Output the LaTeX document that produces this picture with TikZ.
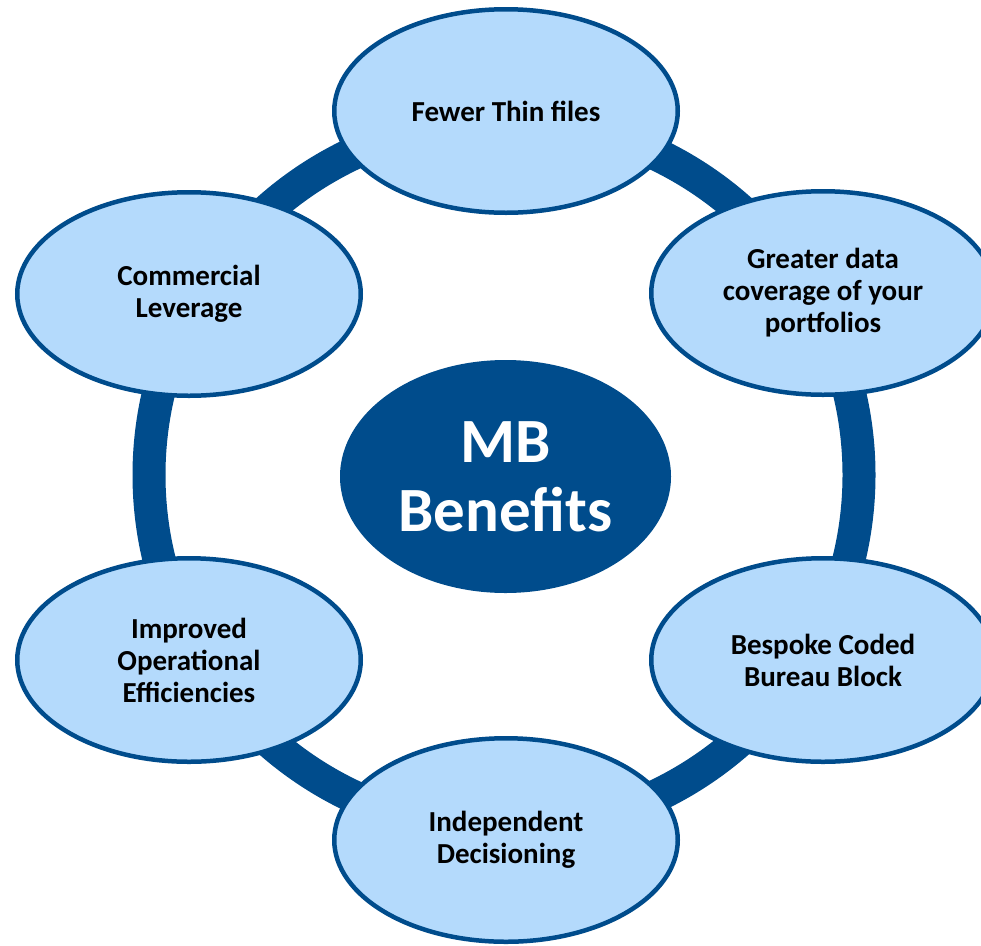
\documentclass[tikz,border=0pt]{standalone}
\usepackage{fontspec}
\setmainfont{Carlito}
\usetikzlibrary{shapes.geometric}
\definecolor{mbdark}{RGB}{0,76,140}
\definecolor{mblight}{RGB}{180,218,252}
\tikzset{
  benefit/.style={ellipse, draw=mbdark, line width=4.5pt, fill=mblight,
    inner sep=0pt, minimum width=343.5pt, minimum height=203.5pt,
    align=center, text=black, font=\fontsize{29}{32}\selectfont\bfseries},
  hub/.style={ellipse, fill=mbdark, inner sep=0pt,
    minimum width=331pt, minimum height=233pt,
    align=center, text=white, font=\fontsize{63}{69}\selectfont\bfseries},
  ring/.style={draw=mbdark, line width=33pt}
}
\begin{document}
\begin{tikzpicture}[x=1pt, y=-1pt]
  \useasboundingbox (0,0) rectangle (981,945);
  \clip (0,0) rectangle (981,945);
  \fill[white] (0,0) rectangle (981,945);

  % ring behind the benefit ellipses
  \coordinate (ringc) at (504,475);
  \draw[ring] (ringc) circle[radius=355pt];

  % centre
  \node[hub] (hubnode) at (505.5,476.5) {MB\\Benefits};

  % benefits around the ring
  \node[benefit] (thin)   at (506,111) {Fewer Thin files};
  \node[benefit] (cover)  at (823,293) {Greater data\\coverage of your\\portfolios};
  \node[benefit] (bureau) at (823,660) {Bespoke Coded\\Bureau Block};
  \node[benefit] (indep)  at (506,840) {Independent\\Decisioning};
  \node[benefit] (ops)    at (189,660) {Improved\\Operational\\Efficiencies};
  \node[benefit] (lever)  at (189,294) {Commercial\\Leverage};
\end{tikzpicture}
\end{document}
